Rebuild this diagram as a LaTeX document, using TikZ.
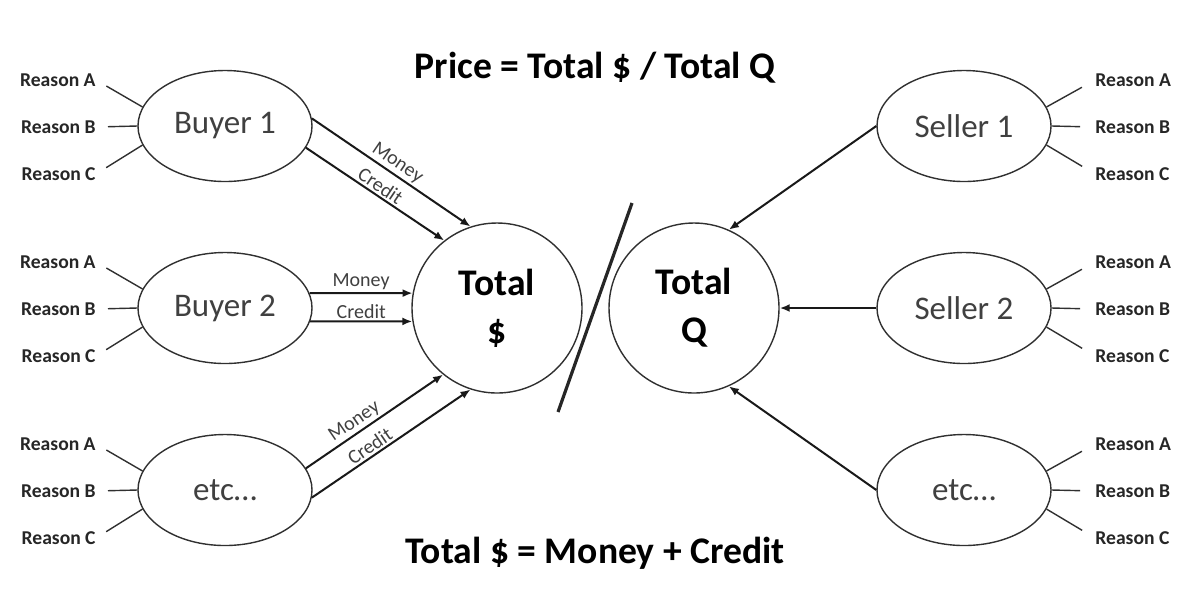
\documentclass[tikz,border=0pt]{standalone}
\usepackage{fontspec}
\setmainfont{Carlito}
\usetikzlibrary{arrows.meta,shapes.geometric}
\definecolor{inkgray}{HTML}{404040}
\definecolor{linegray}{HTML}{303030}

\begin{document}
\begin{tikzpicture}[x=0.5pt,y=-0.5pt,
  party/.style={ellipse,draw=linegray,line width=0.7pt,minimum width=87pt,minimum height=55.5pt,inner sep=0pt,font=\fontsize{16.5}{18}\selectfont,text=inkgray},
  total/.style={circle,draw=linegray,line width=0.7pt,minimum size=85pt,inner sep=0pt,align=center,font=\bfseries\fontsize{18.8}{24}\selectfont},
  reason/.style={inner sep=0pt,font=\bfseries\fontsize{9.8}{11}\selectfont,text=black!85},
  twig/.style={draw=linegray,line width=0.7pt},
  flow/.style={draw=black!90,line width=1pt,-{Latex[length=5pt,width=4pt]}},
  flowlab/.style={font=\fontsize{10}{11}\selectfont,text=inkgray,inner sep=1pt},
  formula/.style={font=\bfseries\fontsize{18.8}{22}\selectfont}]
\useasboundingbox (0,0) rectangle (1202,602);
% buyers, sellers and the two totals
\node[party] (b1) at (225,126) {Buyer 1};
\node[party] (b2) at (225,308) {Buyer 2};
\node[party] (b3) at (225,490) {etc…};
\node[party] (s1) at (964,126) {Seller 1};
\node[party] (s2) at (964,308) {Seller 2};
\node[party] (s3) at (964,490) {etc…};
\node[total] (td) at (497,308) {Total\\\$};
\node[total] (tq) at (694,308) {Total\\Q};
\node[formula] (price) at (595,68) {Price = Total \$ / Total Q};
\node[formula] (sum) at (595,553) {Total \$ = Money + Credit};
\draw[line width=1.6pt,black!85] (632,203) -- (558,412);
% reasons
\foreach \p in {b1,b2,b3}{
  \foreach \l/\ang/\dy in {A/167/-46,B/180/1,C/193/48}{
    \path (\p.center) ++(-129,\dy) node[reason,anchor=east] (\p\l) {Reason \l};
    \draw[twig,shorten <=6pt] (\p\l.east) -- (\p.\ang);}}
\foreach \p in {s1,s2,s3}{
  \foreach \l/\ang/\dy in {A/13/-46,B/0/1,C/347/48}{
    \path (\p.center) ++(131,\dy) node[reason,anchor=west] (\p\l) {Reason \l};
    \draw[twig,shorten >=7.5pt] (\p.\ang) -- (\p\l.west);}}
% money and credit flows
\draw[flow] (b1.5) -- node[flowlab,above,sloped] {Money} (td.108);
\draw[flow] (b1.345) -- node[flowlab,above,sloped] {Credit} (td.128);
\draw[flow] (b2.10) -- node[flowlab,above] {Money} (td.170);
\draw[flow] (b2.351) -- node[flowlab,above] {Credit} (td.189);
\draw[flow] (b3.15) -- node[flowlab,above,sloped,pos=.4] {Money} (td.231);
\draw[flow] (b3.355) -- node[flowlab,above,sloped,pos=.4] {Credit} (td.252);
\draw[flow] (s1.west) -- (tq.66);
\draw[flow] (s2.west) -- (tq.east);
\draw[flow] (s3.west) -- (tq.294);
\end{tikzpicture}
\end{document}
